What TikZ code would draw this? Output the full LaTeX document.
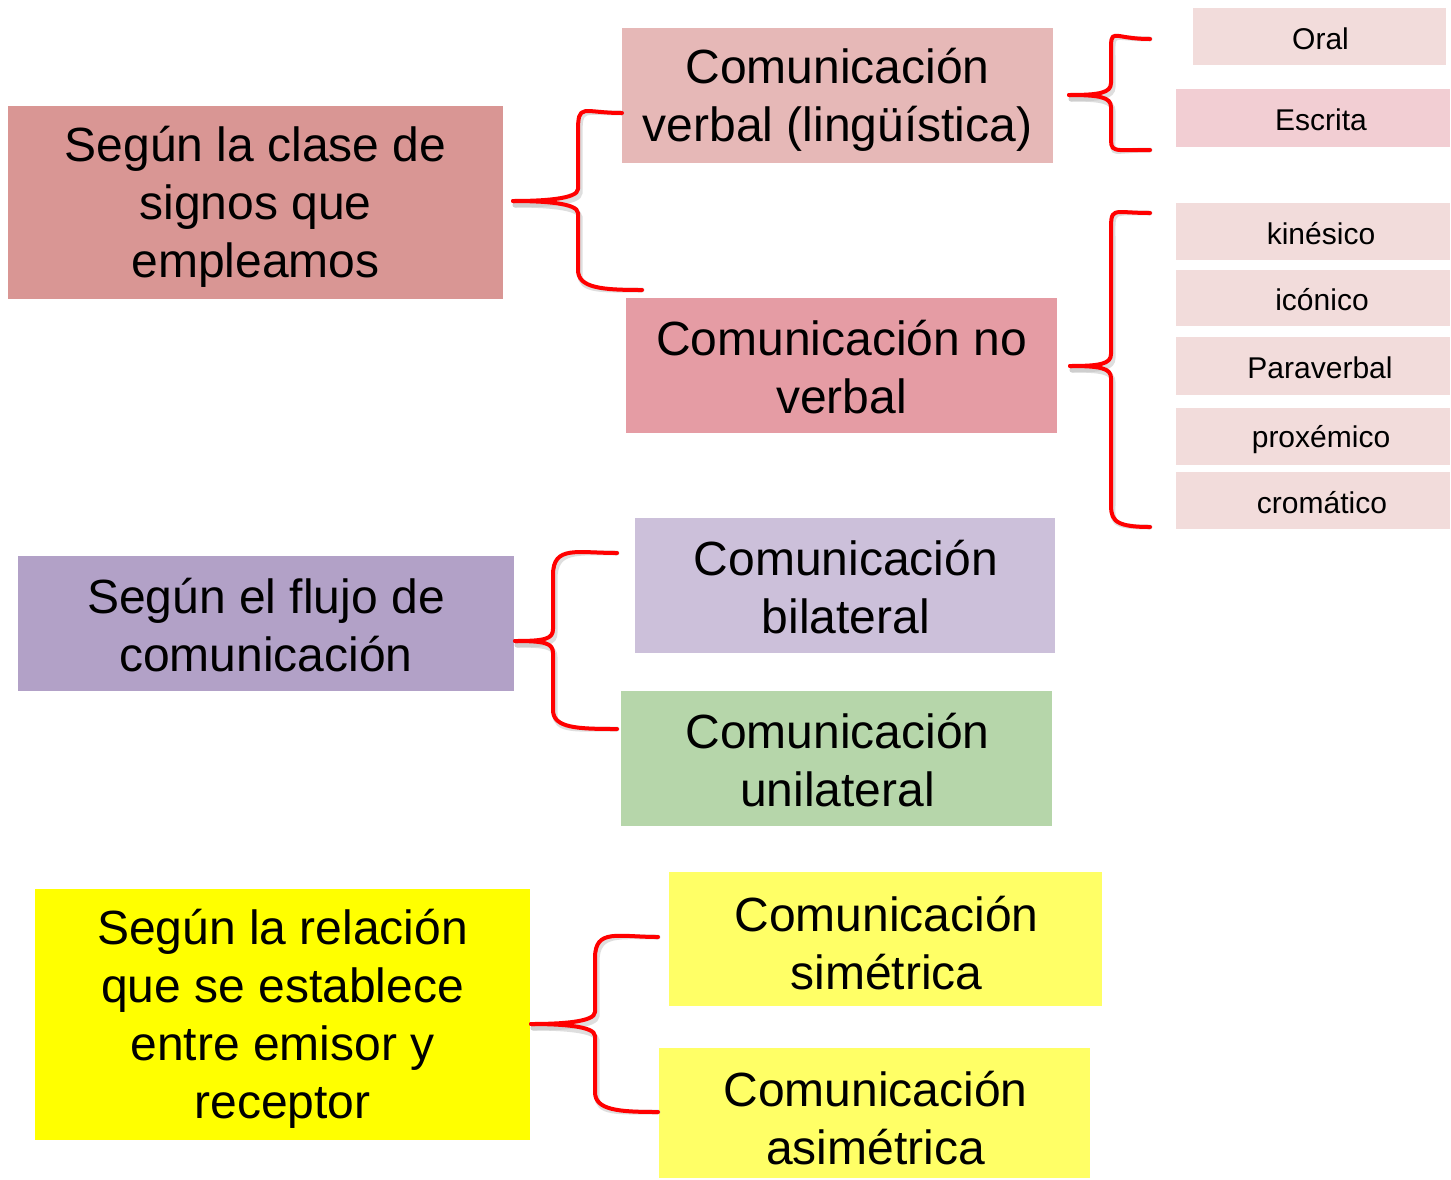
\documentclass[tikz,border=0pt]{standalone}
\usepackage{fontspec}
\setmainfont{Liberation Sans}
\usetikzlibrary{calc}
\definecolor{cA}{RGB}{217,150,148}
\definecolor{cV}{RGB}{230,184,183}
\definecolor{cNV}{RGB}{229,156,164}
\definecolor{cSub}{RGB}{242,220,219}
\definecolor{cEsc}{RGB}{242,206,211}
\definecolor{cFl}{RGB}{178,161,199}
\definecolor{cBi}{RGB}{204,192,218}
\definecolor{cUni}{RGB}{182,214,170}
\definecolor{cRel}{RGB}{255,255,0}
\definecolor{cSim}{RGB}{255,255,102}
\definecolor{braceRed}{RGB}{255,0,0}
\tikzset{
  panel/.style={rectangle, inner sep=0pt},
  bigtext/.style={inner sep=0pt, align=center, text=black,
    font=\fontsize{48}{58}\selectfont},
  smalltext/.style={inner sep=0pt, align=center, text=black,
    font=\fontsize{30}{36}\selectfont},
  brace/.style={draw=braceRed, line width=4pt, line cap=round, line join=round},
  braceshadow/.style={draw=black!25, line width=5pt, line cap=round, opacity=0.5},
}
% #1 name, #2 fill, #3 width, #4 height, #5 centre, #6 text style, #7 text offset, #8 text
\newcommand{\panelnode}[8]{%
  \node[panel, fill=#2, minimum width=#3pt, minimum height=#4pt] (#1) at (#5) {};
  \node[#6] (#1-t) at ($(#1)+(#7)$) {#8};
}
\newcommand{\mybrace}[8]{%
  \draw[#8] (#6) .. controls ($(#6)+(-40,0)$) and (#3,#4-20) .. (#3,#4+10)
     -- (#3,#2-12) .. controls (#3,#2-2) and (#1+30,#2) .. (#1,#2);
  \draw[#8] (#1,#2) .. controls (#1+30,#2) and (#3,#2+2) .. (#3,#2+12)
     -- (#3,#5-10) .. controls (#3,#5+8) and ($(#7)+(-40,0)$) .. (#7);
}
\begin{document}
\begin{tikzpicture}[x=1pt,y=-1pt]
\useasboundingbox (0,0) rectangle (1451,1179);
\fill[white] (0,0) rectangle (1451,1179);

\panelnode{A}{cA}{495}{193}{255.5,202.5}{bigtext}{0,4}{Según la clase de\\signos que\\empleamos}
\panelnode{V}{cV}{431}{135}{837.5,95.5}{bigtext}{0,4}{Comunicación\\verbal (lingüística)}
\panelnode{NV}{cNV}{431}{135}{841.5,365.5}{bigtext}{0,2}{Comunicación no\\verbal}

\panelnode{oral}{cSub}{253}{57}{1319.5,36.5}{smalltext}{1,2}{Oral}
\panelnode{esc}{cEsc}{274}{58}{1313,118}{smalltext}{8,2}{Escrita}
\panelnode{kin}{cSub}{274}{57}{1313,231.5}{smalltext}{8,2}{kinésico}
\panelnode{ico}{cSub}{274}{56}{1313,298}{smalltext}{9,2}{icónico}
\panelnode{para}{cSub}{274}{58}{1313,366}{smalltext}{7,2}{Paraverbal}
\panelnode{prox}{cSub}{274}{57}{1313,436.5}{smalltext}{8,3}{proxémico}
\panelnode{crom}{cSub}{274}{57}{1313,500.5}{smalltext}{9,2}{cromático}

\panelnode{F}{cFl}{496}{135}{266,623.5}{bigtext}{0,2}{Según el flujo de\\comunicación}
\panelnode{bi}{cBi}{420}{135}{845,585.5}{bigtext}{1,2}{Comunicación\\bilateral}
\panelnode{uni}{cUni}{431}{135}{836.5,758.5}{bigtext}{1,2}{Comunicación\\unilateral}

\panelnode{R}{cRel}{495}{251}{282.5,1014.5}{bigtext}{0,4}{Según la relación\\que se establece\\entre emisor y\\receptor}
\panelnode{sim}{cSim}{433}{134}{885.5,939}{bigtext}{1,4}{Comunicación\\simétrica}
\panelnode{asim}{cSim}{431}{130}{874.5,1113}{bigtext}{1,5}{Comunicación\\asimétrica}

% brace end points
\coordinate (b1t) at (622,113);  \coordinate (b1b) at (642,290);
\coordinate (b2t) at (1150,39);  \coordinate (b2b) at (1150,150);
\coordinate (b3t) at (1150,213); \coordinate (b3b) at (1150,527);
\coordinate (b4t) at (617,553);  \coordinate (b4b) at (617,729);
\coordinate (b5t) at (658,937);  \coordinate (b5b) at (658,1112);

\begin{scope}[shift={(2,4)}]
\mybrace{513}{201}{578}{122}{280}{b1t}{b1b}{braceshadow}
\mybrace{1069}{95}{1111}{45}{145}{b2t}{b2b}{braceshadow}
\mybrace{1070}{366}{1111}{225}{510}{b3t}{b3b}{braceshadow}
\mybrace{515}{641}{553}{565}{720}{b4t}{b4b}{braceshadow}
\mybrace{531}{1024}{595}{948}{1102}{b5t}{b5b}{braceshadow}
\end{scope}
\mybrace{513}{201}{578}{122}{280}{b1t}{b1b}{brace}
\mybrace{1069}{95}{1111}{45}{145}{b2t}{b2b}{brace}
\mybrace{1070}{366}{1111}{225}{510}{b3t}{b3b}{brace}
\mybrace{515}{641}{553}{565}{720}{b4t}{b4b}{brace}
\mybrace{531}{1024}{595}{948}{1102}{b5t}{b5b}{brace}
\end{tikzpicture}
\end{document}
